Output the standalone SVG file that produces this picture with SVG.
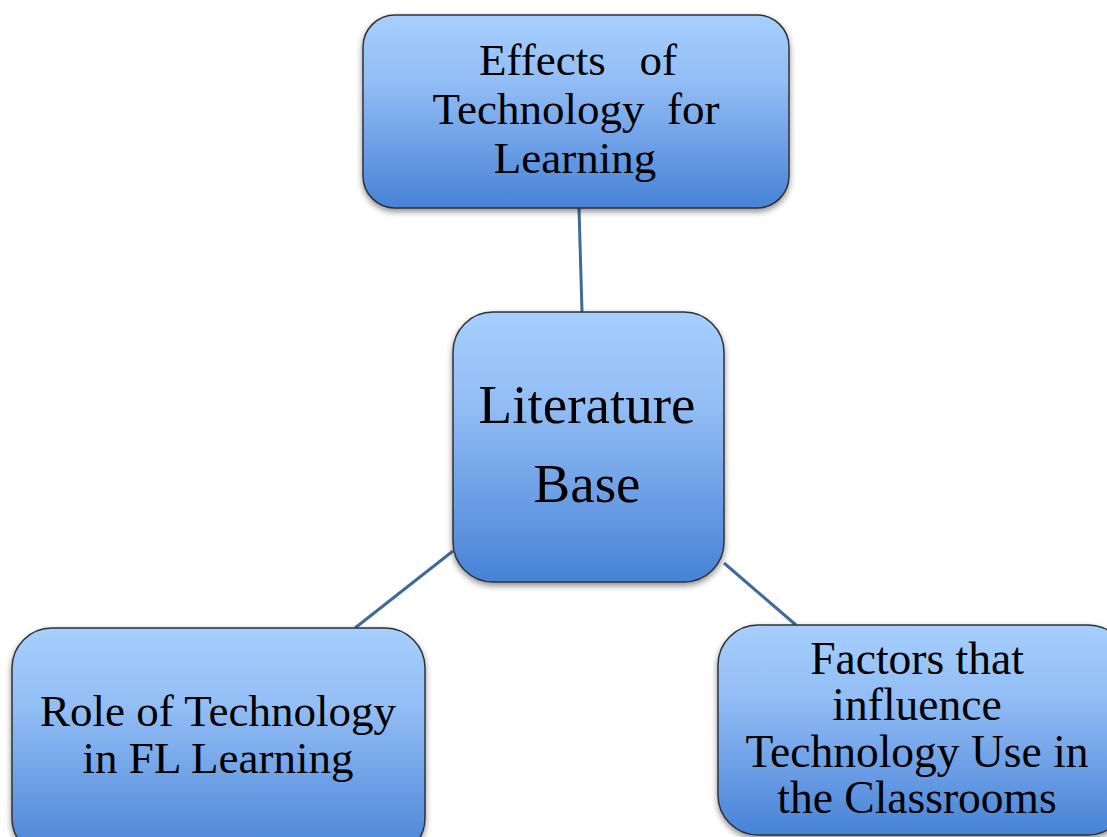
<svg xmlns="http://www.w3.org/2000/svg" width="1107" height="837" viewBox="0 0 1107 837">
<defs>
<linearGradient id="g" x1="0" y1="0" x2="0" y2="1">
<stop offset="0" stop-color="#a6cffd"/>
<stop offset="0.35" stop-color="#92bdf5"/>
<stop offset="1" stop-color="#4782d6"/>
</linearGradient>
<filter id="sh" x="-10%" y="-10%" width="120%" height="125%">
<feGaussianBlur in="SourceAlpha" stdDeviation="3"/>
<feOffset dx="0" dy="3" result="b"/>
<feComponentTransfer><feFuncA type="linear" slope="0.45"/></feComponentTransfer>
<feMerge><feMergeNode/><feMergeNode in="SourceGraphic"/></feMerge>
</filter>
</defs>
<style>
.box{fill:url(#g);stroke:#2f3338;stroke-width:1.5;filter:url(#sh)}
.t{font-family:'Liberation Serif','Times New Roman',serif;fill:#000;text-anchor:middle}
.c{stroke:#3f6b9b;stroke-width:3;fill:none}
</style>
<rect width="1107" height="837" fill="#fff"/>
<g id="connectors">
<line class="c" x1="579" y1="208" x2="582" y2="312"/>
<line class="c" x1="453" y1="551" x2="355" y2="628"/>
<line class="c" x1="724" y1="563" x2="796" y2="625"/>
</g>
<g id="node-effects">
<rect class="box" x="363" y="15" width="426" height="193" rx="32"/>
<text class="t" font-size="45"><tspan x="578" y="75" xml:space="preserve">Effects   of</tspan><tspan x="576" y="124" xml:space="preserve">Technology  for</tspan><tspan x="575" y="173">Learning</tspan></text>
</g>
<g id="node-literature">
<rect class="box" x="453" y="312" width="271" height="270" rx="40"/>
<text class="t" font-size="55"><tspan x="587" y="423">Literature</tspan><tspan x="587" y="502">Base</tspan></text>
</g>
<g id="node-role">
<rect class="box" x="12" y="628" width="413" height="230" rx="40"/>
<text class="t" font-size="45"><tspan x="218" y="726">Role of Technology</tspan><tspan x="218" y="773">in FL Learning</tspan></text>
</g>
<g id="node-factors">
<rect class="box" x="718" y="625" width="410" height="210" rx="40"/>
<text class="t" font-size="45.5"><tspan x="917" y="674">Factors that</tspan><tspan x="917" y="720">influence</tspan><tspan x="917" y="767">Technology Use in</tspan><tspan x="917" y="813">the Classrooms</tspan></text>
</g>
</svg>
